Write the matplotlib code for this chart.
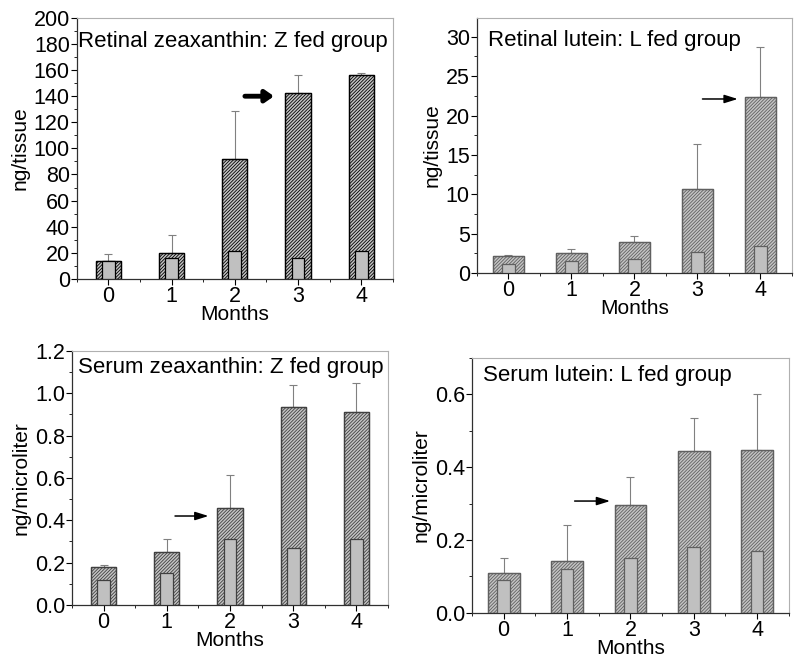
import matplotlib.pyplot as plt
import numpy as np

plt.rcParams['font.family'] = ['Liberation Sans', 'DejaVu Sans']
plt.rcParams['hatch.linewidth'] = 0.6
plt.rcParams['hatch.color'] = '#404040'

months = [0, 1, 2, 3, 4]

# retinal zeaxanthin, Z fed group (ng/tissue)
rz_fed = [14, 19.5, 92, 142.5, 156.5]
rz_err = [5, 14, 36.5, 13.5, 1]
rz_ctl = [14, 16, 21, 16, 21]

# retinal lutein, L fed group (ng/tissue)
rl_fed = [2.1, 2.5, 3.9, 10.7, 22.4]
rl_err = [0.2, 0.6, 0.8, 5.7, 6.3]
rl_ctl = [1.1, 1.5, 1.8, 2.6, 3.4]

# serum zeaxanthin, Z fed group (ng/microliter)
sz_fed = [0.18, 0.25, 0.46, 0.935, 0.91]
sz_err = [0.01, 0.06, 0.155, 0.105, 0.14]
sz_ctl = [0.12, 0.15, 0.31, 0.27, 0.31]

# serum lutein, L fed group (ng/microliter)
sl_fed = [0.11, 0.143, 0.295, 0.445, 0.447]
sl_err = [0.04, 0.099, 0.077, 0.091, 0.153]
sl_ctl = [0.09, 0.12, 0.15, 0.18, 0.17]

fig = plt.figure(figsize=(8, 6.64), dpi=100)

panels = [
    dict(rect=[0.096, 0.580, 0.395, 0.393], fed=rz_fed, err=rz_err, ctl=rz_ctl,
         ylim=200, major=20, minor=10, width=0.4, edge='black',
         title='Retinal zeaxanthin: Z fed group', tx=0.005, ty=0.908,
         ylabel='ng/tissue', fmt='{:.0f}',
         arrow=((2.16, 140), (2.62, 140)), thick=True),
    dict(rect=[0.596, 0.589, 0.394, 0.384], fed=rl_fed, err=rl_err, ctl=rl_ctl,
         ylim=32.4, major=5, minor=2.5, width=0.5, edge='#606060',
         title='Retinal lutein: L fed group', tx=0.035, ty=0.91,
         ylabel='ng/tissue', fmt='{:.0f}',
         arrow=((3.08, 22.1), (3.64, 22.1)), thick=False),
    dict(rect=[0.09, 0.089, 0.395, 0.3825], fed=sz_fed, err=sz_err, ctl=sz_ctl,
         ylim=1.2, major=0.2, minor=0.1, width=0.4, edge='#404040',
         title='Serum zeaxanthin: Z fed group', tx=0.02, ty=0.933,
         ylabel='ng/microliter', fmt='{:.1f}',
         arrow=((1.13, 0.42), (1.66, 0.42)), thick=False),
    dict(rect=[0.59, 0.077, 0.396, 0.384], fed=sl_fed, err=sl_err, ctl=sl_ctl,
         ylim=0.70, major=0.2, minor=0.1, width=0.5, edge='#606060',
         title='Serum lutein: L fed group', tx=0.035, ty=0.93,
         ylabel='ng/microliter', fmt='{:.1f}',
         arrow=((1.12, 0.307), (1.68, 0.307)), thick=False),
]

for p in panels:
    ax = fig.add_axes(p['rect'])
    ax.bar(months, p['fed'], width=p['width'], color='#c4c4c4', hatch='//////////',
           edgecolor=p['edge'], linewidth=0.9, zorder=2)
    ax.bar(months, p['fed'], width=p['width'], color='none',
           edgecolor=p['edge'], linewidth=0.9, zorder=3)
    ax.bar(months, p['ctl'], width=0.2, color='#c0c0c0',
           edgecolor=p['edge'], linewidth=0.9, zorder=3)
    ax.errorbar(months, p['fed'], yerr=[np.zeros(5), p['err']], fmt='none',
                ecolor='#808080', elinewidth=0.8, capsize=3, capthick=0.8, zorder=1)
    ax.set_xlim(-0.5, 4.5)
    ax.set_ylim(0, p['ylim'])
    ax.set_xticks(months)
    ax.set_xticks(np.arange(-0.5, 4.6, 0.5), minor=True)
    yt = np.arange(0, p['ylim'] + 1e-9, p['major'])
    ax.set_yticks(yt)
    ax.set_yticklabels([p['fmt'].format(v) for v in yt])
    ax.set_yticks(np.arange(0, p['ylim'] + 1e-9, p['minor']), minor=True)
    ax.tick_params(which='major', direction='out', length=4, width=0.8, labelsize=15.5, pad=1)
    ax.tick_params(which='minor', direction='out', length=2.5, width=0.6)
    for s in ['top', 'right']:
        ax.spines[s].set_color('#b0b0b0')
        ax.spines[s].set_linewidth(0.8)
    for s in ['left', 'bottom']:
        ax.spines[s].set_color('#303030')
        ax.spines[s].set_linewidth(0.9)
    ax.set_xlabel('Months', fontsize=15, labelpad=-1)
    ax.set_ylabel(p['ylabel'], fontsize=15, labelpad=3)
    ax.text(p['tx'], p['ty'], p['title'], transform=ax.transAxes, fontsize=16,
            ha='left', va='center', zorder=5)
    (x0, y0), (x1, y1) = p['arrow']
    if p['thick']:
        props = dict(arrowstyle='-|>,head_length=0.5,head_width=0.35', lw=3.5,
                     color='black', shrinkA=0, shrinkB=0)
    else:
        props = dict(arrowstyle='-|>,head_length=0.8,head_width=0.25', lw=1.1,
                     color='black', shrinkA=0, shrinkB=0)
    ax.annotate('', xy=(x1, y1), xytext=(x0, y0), arrowprops=props, zorder=6)

fig.savefig('out.png', dpi=100)
